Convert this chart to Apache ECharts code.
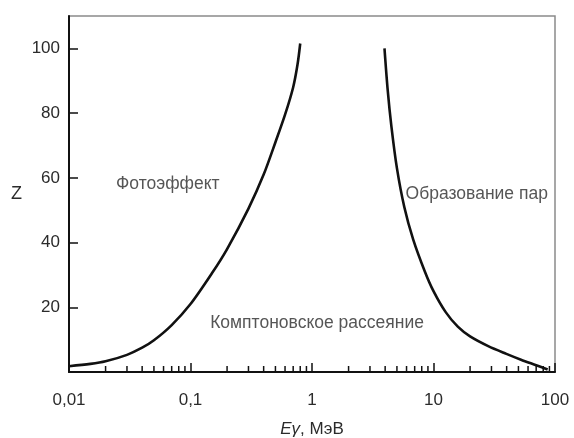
<!DOCTYPE html>
<html>
<head>
<meta charset="utf-8">
<script src="https://cdn.jsdelivr.net/npm/echarts@6/dist/echarts.min.js"></script>
<style>
  html, body { margin: 0; padding: 0; background: #fff; }
  #chart { width: 574px; height: 438px; }
</style>
</head>
<body>
<div id="chart"></div>
<script>
// photoeffect / compton boundary (E in MeV, Z)
const photoE = [0.01, 0.015, 0.02, 0.03, 0.04, 0.05, 0.07, 0.1, 0.15, 0.2, 0.3, 0.4, 0.5, 0.6, 0.7, 0.76, 0.8]
const photoZ = [1.8, 2.5, 3.3, 5.3, 7.5, 9.8, 14.5, 21, 30.5, 38, 50.5, 61, 71, 79.5, 88, 95, 101.5]

// compton / pair production boundary
const pairE = [3.95, 4.2, 4.5, 5, 5.75, 6.8, 8.5, 10, 12.6, 15.85, 20, 28.2, 39.8, 52.5, 70, 87]
const pairZ = [100, 87, 76, 63, 51, 41, 31, 25, 18.5, 14, 11, 8, 5.6, 3.8, 2.1, 0.8]

const xTickValues = [0.01, 0.1, 1, 10, 100]
const xTickLabels = ['0,01', '0,1', '1', '10', '100']
const yTickValues = [20, 40, 60, 80, 100]

const regionNames = ['Фотоэффект', 'Образование пар', 'Комптоновское рассеяние']
const regionE = [0.065, 22.7, 1.1]
const regionZ = [58, 55, 15.2]

// minor ticks of the log axis: 2..9 in each decade
const minorTicks = []
for (let d = 0; d < 4; d++) {
  for (let k = 2; k <= 9; k++) minorTicks.push(+(k * xTickValues[d]).toPrecision(3))
}

const font = '"Liberation Sans", Arial, sans-serif'
const textColor = '#2b2b2b'

const chart = echarts.init(document.getElementById('chart'))

chart.setOption({
  animation: false,
  textStyle: { fontFamily: font },
  grid: {
    left: 69, right: 19, top: 16, bottom: 66,
    outerBoundsMode: 'none',
    containLabel: false,
    show: true, borderColor: '#8a8a8a', borderWidth: 1.5
  },
  xAxis: {
    type: 'log',
    min: 0.01,
    max: 100,
    logBase: 10,
    name: '{i|Eγ}, МэВ',
    nameLocation: 'middle',
    nameGap: 49,
    nameTextStyle: {
      color: textColor, fontSize: 17, fontFamily: font,
      rich: { i: { fontStyle: 'italic', fontSize: 17, color: textColor, fontFamily: font } }
    },
    axisLine: { onZero: false, lineStyle: { color: '#111', width: 2 } },
    axisTick: { inside: true, length: 9, lineStyle: { color: '#111', width: 1.5 } },
    axisLabel: {
      color: textColor, fontSize: 17, margin: 20,
      formatter: (v) => {
        let best = 0
        xTickValues.forEach((t, i) => {
          if (Math.abs(Math.log10(t) - Math.log10(v)) < Math.abs(Math.log10(xTickValues[best]) - Math.log10(v))) best = i
        })
        return xTickLabels[best]
      }
    },
    splitLine: { show: false }
  },
  yAxis: {
    type: 'value',
    min: 0,
    max: 110,
    interval: 20,
    name: 'Z',
    nameLocation: 'middle',
    nameRotate: 0,
    nameGap: 47,
    nameTextStyle: { color: textColor, fontSize: 18, fontFamily: font, padding: [14, 0, 0, 0] },
    axisLine: { show: true, lineStyle: { color: '#111', width: 2 } },
    axisTick: { inside: true, length: 9, customValues: yTickValues, lineStyle: { color: '#111', width: 1.5 } },
    axisLabel: { color: textColor, fontSize: 17, margin: 9, customValues: yTickValues },
    splitLine: { show: false }
  },
  series: [
    {
      type: 'line',
      data: photoE.map((e, i) => [e, photoZ[i]]),
      smooth: 0.3,
      showSymbol: false,
      lineStyle: { color: '#111', width: 2.6 }
    },
    {
      type: 'line',
      data: pairE.map((e, i) => [e, pairZ[i]]),
      smooth: 0.3,
      showSymbol: false,
      lineStyle: { color: '#111', width: 2.6 }
    },
    {
      type: 'scatter',
      symbolSize: 0,
      data: regionNames.map((n, i) => ({ value: [regionE[i], regionZ[i]], name: n })),
      label: {
        show: true,
        position: 'inside',
        formatter: (p) => p.name,
        color: textColor,
        fontSize: 17.5,
        fontFamily: font
      }
    },
    {
      type: 'custom',
      data: minorTicks.map((v) => [v, 0]),
      renderItem: (params, api) => {
        const p = api.coord([api.value(0), 0])
        return {
          type: 'line',
          shape: { x1: p[0], y1: p[1], x2: p[0], y2: p[1] - 6 },
          style: { stroke: '#111', lineWidth: 1.5 }
        }
      },
      silent: true
    }
  ]
})
</script>
</body>
</html>
